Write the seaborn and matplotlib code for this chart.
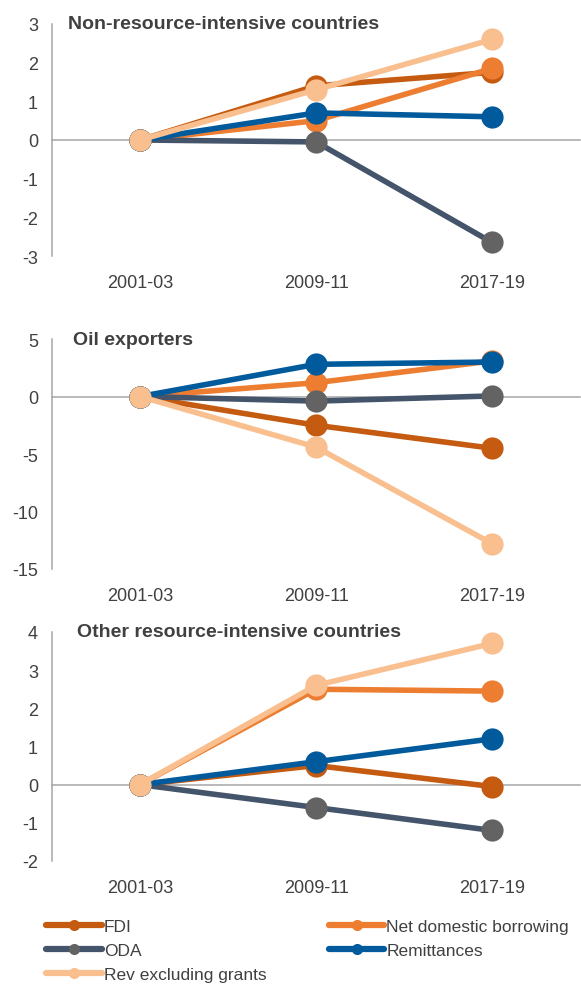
import pandas as pd
import matplotlib.pyplot as plt
import seaborn as sns
from matplotlib.lines import Line2D

# data
PERIODS = ["2001-03", "2009-11", "2017-19"]
PANELS = ["Non-resource-intensive countries", "Oil exporters", "Other resource-intensive countries"]
SERIES = ["FDI", "Net domestic borrowing", "ODA", "Remittances", "Rev excluding grants"]

non_resource = {
    "FDI": [0, 1.4, 1.75],
    "Net domestic borrowing": [0, 0.5, 1.85],
    "ODA": [0, -0.05, -2.65],
    "Remittances": [0, 0.7, 0.6],
    "Rev excluding grants": [0, 1.3, 2.6],
}
oil_exporters = {
    "FDI": [0, -2.5, -4.5],
    "Net domestic borrowing": [0, 1.2, 3.1],
    "ODA": [0, -0.4, 0.05],
    "Remittances": [0, 2.8, 3.0],
    "Rev excluding grants": [0, -4.4, -12.8],
}
other_resource = {
    "FDI": [0, 0.5, -0.05],
    "Net domestic borrowing": [0, 2.5, 2.45],
    "ODA": [0, -0.6, -1.2],
    "Remittances": [0, 0.6, 1.2],
    "Rev excluding grants": [0, 2.6, 3.7],
}
YTICKS = [[-3, -2, -1, 0, 1, 2, 3], [-15, -10, -5, 0, 5], [-2, -1, 0, 1, 2, 3, 4]]

# styling
LINE_COLORS = {
    "FDI": "#C55A11",
    "Net domestic borrowing": "#ED7D31",
    "ODA": "#44546A",
    "Remittances": "#005A9C",
    "Rev excluding grants": "#F9BF8F",
}
MARKER_COLORS = dict(LINE_COLORS, ODA="#636363")
TEXT = "#404040"
AXIS = "#A6A6A6"

rows = []
for panel, vals in zip(PANELS, [non_resource, oil_exporters, other_resource]):
    for s in SERIES:
        for i, v in enumerate(vals[s]):
            rows.append({"panel": panel, "series": s, "pos": i, "value": v})
df = pd.DataFrame(rows)

sns.set_style("white")
plt.rcParams["font.family"] = ["Liberation Sans", "DejaVu Sans"]
plt.rcParams["axes.unicode_minus"] = False

fig = plt.figure(figsize=(5.81, 9.87), dpi=100)
boxes = [(0.0895, 0.7396, 0.909, 0.2351),
         (0.0895, 0.4225, 0.909, 0.2330),
         (0.0895, 0.1267, 0.909, 0.2320)]
title_x = [0.03, 0.04, 0.047]

for k, panel in enumerate(PANELS):
    ax = fig.add_axes(boxes[k])
    sub = df[df["panel"] == panel]
    for s in SERIES:
        sns.lineplot(data=sub[sub["series"] == s], x="pos", y="value", ax=ax,
                     color=LINE_COLORS[s], marker="o", markersize=16,
                     markerfacecolor=MARKER_COLORS[s], markeredgecolor=MARKER_COLORS[s],
                     markeredgewidth=0, linewidth=4, sort=False, legend=False)
    yt = YTICKS[k]
    ax.set_ylim(yt[0], yt[-1])
    ax.set_xlim(-0.5, 2.5)
    ax.set_yticks(yt)
    ax.set_yticklabels([str(t) for t in yt])
    ax.set_xlabel("")
    ax.set_ylabel("")
    for side in ["top", "right"]:
        ax.spines[side].set_visible(False)
    ax.spines["bottom"].set_position(("data", 0))
    for side in ["left", "bottom"]:
        ax.spines[side].set_color(AXIS)
        ax.spines[side].set_linewidth(1.1)
        ax.spines[side].set_zorder(0)
    ax.set_xticks([0.5, 1.5, 2.5])
    ax.set_xticklabels([])
    ax.tick_params(axis="x", direction="in", length=4, color=AXIS, width=1.1)
    ax.tick_params(axis="y", direction="out", length=5, color=AXIS, width=1.1,
                   labelsize=13, labelcolor=TEXT, pad=5)
    ax.patch.set_alpha(0)

    sec = ax.secondary_xaxis("bottom")
    sec.set_xticks([0, 1, 2])
    sec.set_xticklabels(PERIODS)
    sec.tick_params(length=0, labelsize=13, labelcolor=TEXT, pad=13)
    sec.spines["bottom"].set_visible(False)

    ax.text(title_x[k], 1.0, panel, transform=ax.transAxes, va="center", ha="left",
            fontsize=14, fontweight="bold", color=TEXT)

handles = {s: Line2D([], [], color=LINE_COLORS[s], linewidth=4.5, marker="o", markersize=8,
                     markerfacecolor=MARKER_COLORS[s], markeredgewidth=0) for s in SERIES}
order = ["FDI", "ODA", "Rev excluding grants", "Net domestic borrowing", "Remittances"]
fig.legend([handles[s] for s in order], order, loc="upper left", bbox_to_anchor=(0.08, 0.068),
           ncol=2, frameon=False, fontsize=12.5, handlelength=3.2, handletextpad=0.1,
           columnspacing=3.6, labelspacing=0.5, borderaxespad=0, borderpad=0,
           labelcolor=TEXT)

fig.savefig("out.png", dpi=100)
